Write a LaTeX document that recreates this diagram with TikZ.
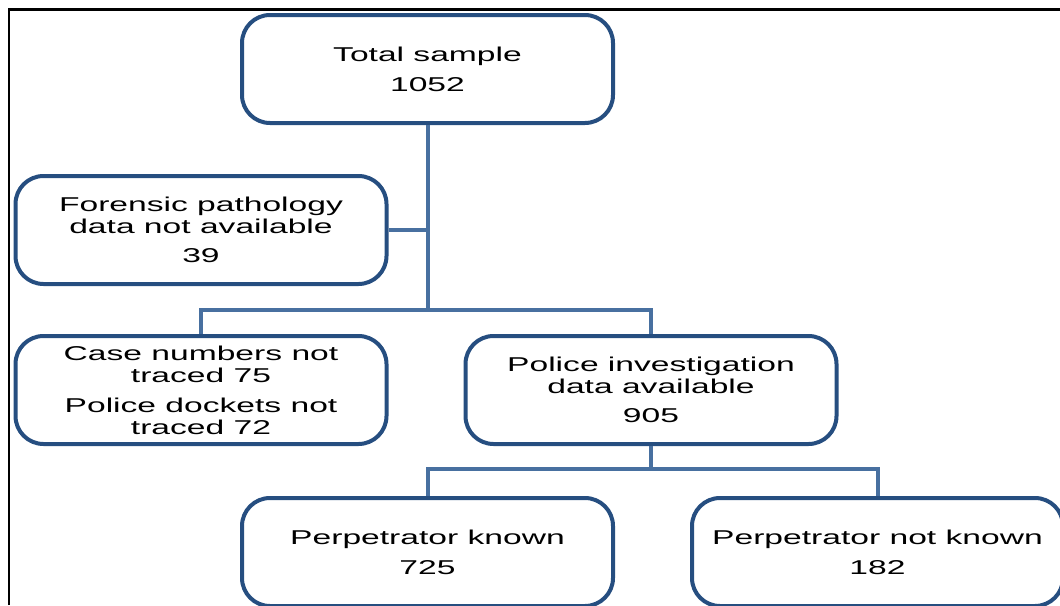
\documentclass[tikz,border=0pt]{standalone}
\usepackage{fontspec}
\newfontfamily\boxfont[FakeStretch=1.68]{Liberation Sans}
\usetikzlibrary{positioning}
\definecolor{boxblue}{RGB}{38,78,128}
\definecolor{linkblue}{RGB}{72,112,160}
\tikzset{
box/.style={draw=boxblue, line width=4pt, rounded corners=28pt, minimum width=371pt, minimum height=108pt, align=center, inner sep=2pt, font=\boxfont\fontsize{20}{22}\selectfont}, % the rounded boxes
link/.style={draw=linkblue, line width=4pt}, % the connecting lines
}

\begin{document}
\begin{tikzpicture}[x=1pt, y=-1pt]
    \useasboundingbox (0,0) rectangle (1060,605);
    \draw[line width=2.5pt] (9,605) -- (9,9.5) -- (1060,9.5);

    \node[box] (total) at (427.5,69) {Total sample\\[8pt]1052};
    \node[box] (forensic) at (201,230) {Forensic pathology\\data not available\\[7pt]39};
    \node[box, below=48pt of forensic] (cases) {Case numbers not\\traced 75\\[8pt]Police dockets not\\traced 72};
    \node[box, right=75pt of cases] (police) {Police investigation\\data available\\[7pt]905};
    \node[box] (known) at (427.5,552) {Perpetrator known\\[8pt]725};
    \node[box, right=75pt of known] (unknown) {Perpetrator not known\\[8pt]182};

    \coordinate (fork) at (427.5,310);
    \draw[link] (total.south) -- (fork);
    \draw[link] (forensic.east) -- (forensic.east -| total.south);
    \draw[link] (cases.north) |- (fork) -| (police.north);
    \draw[link] (police.south) -- ++(0,23) coordinate (subfork);
    \draw[link] (known.north) |- (subfork) -| (unknown.north);
\end{tikzpicture}
\end{document}
